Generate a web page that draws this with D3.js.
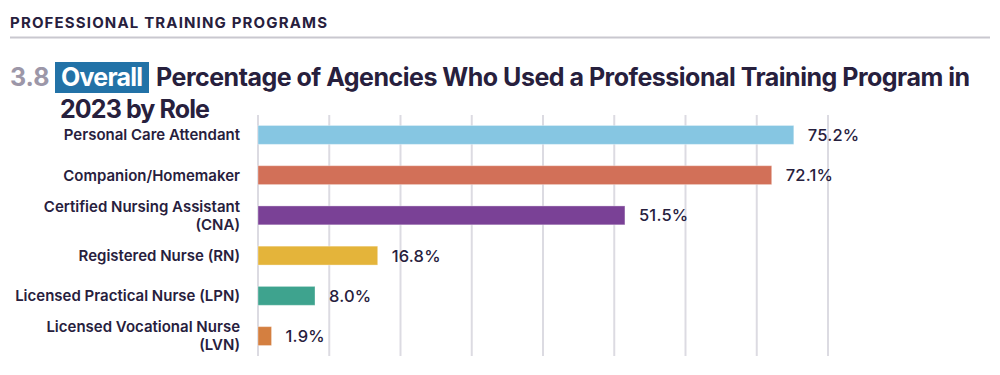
<!DOCTYPE html>
<html>
<head>
<meta charset="utf-8">
<script src="https://cdn.jsdelivr.net/npm/d3@7"></script>
<style>
	body { margin: 0; background: #fff; }
	svg { display: block; font-family: Inter, "Noto Sans", sans-serif; }
</style>
</head>
<body>
<div class="container"></div>
<script>

const roles = [
	"Personal Care Attendant",
	"Companion/Homemaker",
	"Certified Nursing Assistant (CNA)",
	"Registered Nurse (RN)",
	"Licensed Practical Nurse (LPN)",
	"Licensed Vocational Nurse (LVN)"
];
const roleLines = [
	["Personal Care Attendant"],
	["Companion/Homemaker"],
	["Certified Nursing Assistant", "(CNA)"],
	["Registered Nurse (RN)"],
	["Licensed Practical Nurse (LPN)"],
	["Licensed Vocational Nurse", "(LVN)"]
];
const percents = [75.2, 72.1, 51.5, 16.8, 8.0, 1.9];
const barColors = ["#86c6e2", "#d27058", "#7a4196", "#e4b43a", "#3ea38e", "#d47f40"];
const gridTicks = [0, 10, 20, 30, 40, 50, 60, 70, 80];

const ink = "#27203d";
const width = 1000, height = 375;

const svg = d3.select(".container").append("svg")
	.attr("width", width)
	.attr("height", height);

// section header
svg.append("text")
	.attr("x", 10)
	.attr("y", 28)
	.attr("textLength", 317)
	.attr("lengthAdjust", "spacing")
	.style("font-size", "15px")
	.style("font-weight", 700)
	.style("fill", ink)
	.text("PROFESSIONAL TRAINING PROGRAMS");

svg.append("line")
	.attr("x1", 10).attr("x2", 990)
	.attr("y1", 37.5).attr("y2", 37.5)
	.style("stroke", "#c9c8cf")
	.style("stroke-width", 2);

// title
svg.append("text")
	.attr("x", 10).attr("y", 86)
	.style("font-size", "25px")
	.style("font-weight", 700)
	.style("fill", "#9c97a8")
	.text("3.8");

svg.append("rect")
	.attr("x", 55).attr("y", 62)
	.attr("width", 94).attr("height", 31)
	.style("fill", "#2272a7");

svg.append("text")
	.attr("x", 61).attr("y", 86)
	.attr("textLength", 82)
	.attr("lengthAdjust", "spacing")
	.style("font-size", "25px")
	.style("font-weight", 700)
	.style("fill", "#fff")
	.text("Overall");

svg.append("text")
	.attr("x", 156).attr("y", 86)
	.attr("textLength", 814)
	.attr("lengthAdjust", "spacing")
	.style("font-size", "25px")
	.style("font-weight", 700)
	.style("fill", ink)
	.text("Percentage of Agencies Who Used a Professional Training Program in");

svg.append("text")
	.attr("x", 60).attr("y", 118)
	.attr("textLength", 150)
	.attr("lengthAdjust", "spacing")
	.style("font-size", "25px")
	.style("font-weight", 700)
	.style("fill", ink)
	.text("2023 by Role");

// scales
const x = d3.scaleLinear().domain([0, 80]).range([258, 828]);
const y = d3.scaleBand().domain(roles).range([115, 356])
	.paddingInner(0.53).paddingOuter(0.26);

// grid
svg.append("g").attr("class", "grid")
	.selectAll("line")
		.data(gridTicks).enter()
	.append("line")
		.attr("x1", (d) => x(d))
		.attr("x2", (d) => x(d))
		.attr("y1", 115)
		.attr("y2", 356)
		.style("stroke", "#dcdbe2")
		.style("stroke-width", 2);

// bars
const rows = svg.append("g").attr("class", "bars")
	.selectAll(".row")
		.data(roles).enter()
	.append("g")
		.attr("class", "row");

rows.append("rect")
	.attr("x", x(0))
	.attr("y", (d) => y(d))
	.attr("width", (d, i) => x(percents[i]) - x(0))
	.attr("height", y.bandwidth())
	.style("fill", (d, i) => barColors[i])
	.style("stroke", "#fff")
	.style("stroke-opacity", 0.35)
	.style("stroke-width", 1);

rows.append("text")
	.attr("x", (d, i) => x(percents[i]) + 14)
	.attr("y", (d) => y(d) + y.bandwidth() / 2)
	.attr("dy", "0.36em")
	.style("font-size", "16.5px")
	.style("font-weight", 500)
	.style("letter-spacing", "0.2px")
	.style("fill", ink)
	.text((d, i) => `${percents[i].toFixed(1)}%`);

// category labels
rows.append("text")
	.attr("text-anchor", "end")
	.style("font-size", "15px")
	.style("font-weight", 600)
	.style("fill", ink)
	.selectAll("tspan")
		.data((d, i) => roleLines[i].map((t, j) => ({ t, j, n: roleLines[i].length, role: d }))).enter()
	.append("tspan")
		.attr("x", 240)
		.attr("y", (d) => y(d.role) + y.bandwidth() / 2 + (d.j - (d.n - 1) / 2) * 18)
		.attr("dy", "0.36em")
		.text((d) => d.t);

</script>
</body>
</html>
